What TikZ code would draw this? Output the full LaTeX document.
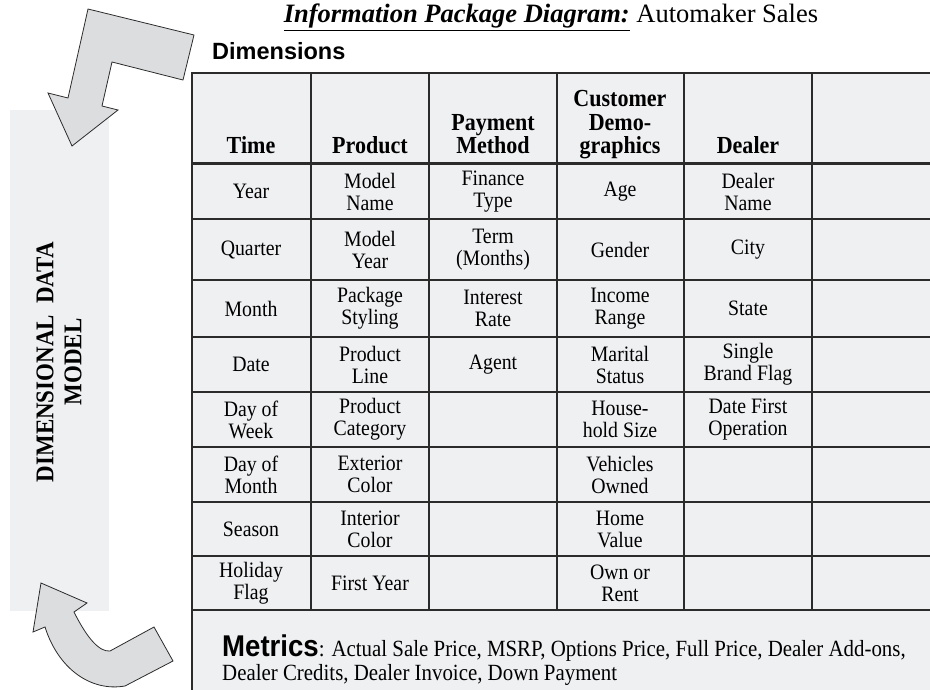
\documentclass[tikz,border=0pt]{standalone}
\usepackage{fontspec}
\setmainfont{Liberation Serif}[FakeStretch=0.9]
\setsansfont{Liberation Sans}
\newfontfamily\titlefont{Liberation Serif}
\newfontfamily\metricsfont{Liberation Sans}[FakeStretch=0.92]
\definecolor{panelgray}{HTML}{EFF0F2}
\definecolor{arrowgray}{HTML}{DCDDDF}
\definecolor{rulegray}{HTML}{2B2B2B}
\begin{document}
\begin{tikzpicture}[x=1pt, y=-1pt,
  cell/.style={align=center, inner sep=0pt, font=\fontsize{22}{22}\selectfont},
  head/.style={align=center, anchor=south, inner sep=0pt, text depth=5pt, font=\fontsize{24.5}{23.5}\selectfont\bfseries},
  rule/.style={draw=rulegray, line width=1.2pt},
  bent/.style={draw=rulegray, fill=arrowgray, line width=0.8pt}]
	\useasboundingbox (0,0) rectangle (930,690);

	% side panel and the two arrows
	\fill[panelgray] (10,110) rectangle (109,611);
	\node[rotate=90, align=center, font=\fontsize{25.5}{28}\selectfont\bfseries] (model) at (59,362) {DIMENSIONAL\ \ DATA\\MODEL};
	\draw[bent] (88,9) -- (194,35) -- (183,80) -- (112,62) -- (102,106) -- (118,110) -- (72,146) -- (48,93) -- (68,98) -- cycle;
	\draw[bent] (41,583) -- (87,603) -- (74,612) .. controls (88,640) and (100,652) .. (110,651) -- (154,627) -- (173,661) -- (125,686) .. controls (90,692) and (58,668) .. (45,627) -- (33,632) -- cycle;

	% titles
	\node[anchor=base, inner sep=0pt, font=\titlefont\fontsize{26.5}{26.5}\selectfont] (title) at (551,23) {\underline{\textbf{\textit{Information Package Diagram:}}} Automaker Sales};
	\node[anchor=base west, inner sep=0pt, font=\sffamily\bfseries\fontsize{23.5}{23.5}\selectfont] (dims) at (212,60) {Dimensions};

	% table
	\fill[panelgray] (192,73) rectangle (930,690);
	\foreach \x in {311,429,557,684,812}
		\draw[rule] (\x,73) -- (\x,610);
	\foreach \y in {219,280,337,392,447,502,556,610}
		\draw[rule] (192,\y) -- (930,\y);
	\draw[rulegray, line width=3pt] (192,164) -- (930,164);
	\draw[rule] (930,73) -- (192,73) -- (192,690);

	% row centres and column centres
	\foreach \y [count=\r] in {191.5,249.5,308.5,364.5,419.5,474.5,529,583}
		\coordinate (r\r) at (0,\y);
	\foreach \x [count=\c] in {251,370,493,620,748,871}
		\coordinate (c\c) at (\x,0);

	\node[head] (time) at (c1 |- 0,159) {Time};
	\node[head] (product) at (c2 |- 0,159) {Product};
	\node[head] (payment) at (c3 |- 0,159) {Payment\\Method};
	\node[head] (customer) at (c4 |- 0,159) {Customer\\Demo-\\graphics};
	\node[head] (dealer) at (c5 |- 0,159) {Dealer};

	\foreach \t [count=\r] in {Year, Quarter, Month, Date, {Day of\\Week}, {Day of\\Month}, Season, {Holiday\\Flag}}
		\node[cell] (time\r) at (c1 |- r\r) {\t};
	\foreach \t [count=\r] in {{Model\\Name}, {Model\\Year}, {Package\\Styling}, {Product\\Line}, {Product\\Category}, {Exterior\\Color}, {Interior\\Color}, First Year}
		\node[cell] (product\r) at (c2 |- r\r) {\t};
	\foreach \t [count=\r] in {{Finance\\Type}, {Term\\(Months)}, {Interest\\Rate}, Agent}
		\node[cell] (payment\r) at (c3 |- r\r) {\t};
	\foreach \t [count=\r] in {Age, Gender, {Income\\Range}, {Marital\\Status}, {House-\\hold Size}, {Vehicles\\Owned}, {Home\\Value}, {Own or\\Rent}}
		\node[cell] (customer\r) at (c4 |- r\r) {\t};
	\foreach \t [count=\r] in {{Dealer\\Name}, City, State, {Single\\Brand Flag}, {Date First\\Operation}}
		\node[cell] (dealer\r) at (c5 |- r\r) {\t};

	% metrics
	\node[anchor=base west, inner sep=0pt, font=\fontsize{23.2}{24}\selectfont] (metrics) at (222,656) {{\metricsfont\bfseries\fontsize{30}{30}\selectfont Metrics}: Actual Sale Price, MSRP, Options Price, Full Price, Dealer Add-ons,};
	\node[anchor=base west, inner sep=0pt, font=\fontsize{23.2}{24}\selectfont] (metricsb) at (222,680) {Dealer Credits, Dealer Invoice, Down Payment};
\end{tikzpicture}
\end{document}
